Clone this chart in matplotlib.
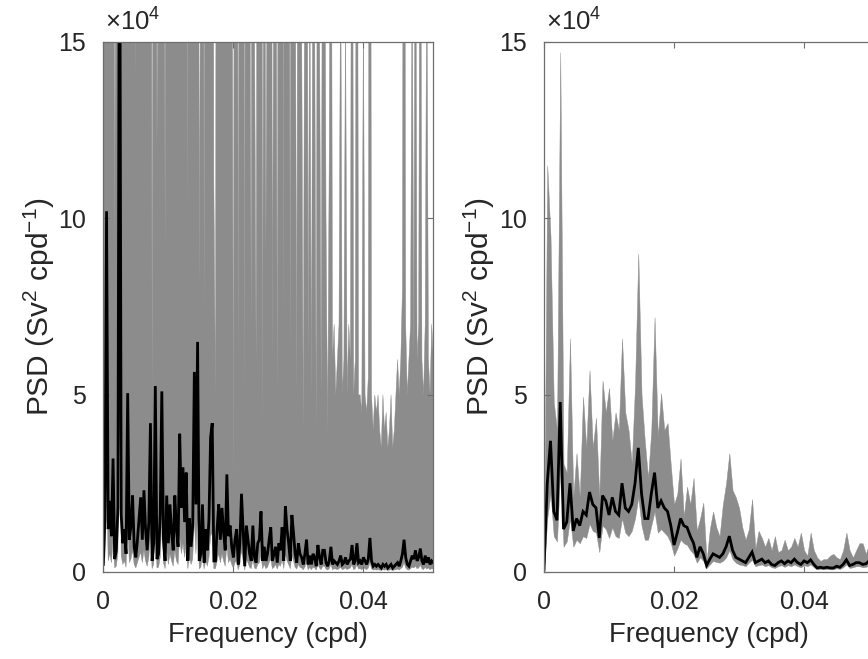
import numpy as np
import matplotlib
matplotlib.use("Agg")
import matplotlib.pyplot as plt

plt.rcParams['font.family'] = ['Liberation Sans', 'DejaVu Sans']
plt.rcParams['mathtext.fontset'] = 'custom'
plt.rcParams['mathtext.rm'] = 'Liberation Sans'
plt.rcParams['mathtext.it'] = 'Liberation Sans'

# ---------------- data (PSD in units of 1e4 Sv^2 cpd^-1) ----------------
df_left = 0.00025  # frequency spacing of the raw periodogram (cpd)
psd_left = [
    0.2, 1.5, 10.2, 1.2, 2.0, 1.0, 3.2, 0.35, 0.6, 1.8,
    22, 1.6, 0.8, 1.2, 0.5, 5.05, 0.9, 1.3, 2.15, 0.7,
    0.4, 0.9, 1.5, 2.1, 0.9, 2.3, 1.2, 0.6, 1.4, 4.2,
    0.3, 0.8, 5.25, 0.35, 0.5, 1.6, 5.1, 0.9, 0.3, 2.15,
    0.8, 1.9, 1.1, 0.6, 2.15, 1.2, 0.7, 3.9, 1.8, 2.95,
    1.4, 2.8, 0.3, 1.5, 0.7, 1.3, 5.65, 1.9, 6.5, 0.3,
    0.5, 1.9, 0.25, 1.2, 0.6, 1.5, 3.8, 4.2, 0.3, 0.3,
    1.2, 1.9, 0.9, 1.8, 1.1, 0.6, 2.75, 1.0, 1.3, 0.7,
    0.4, 0.9, 1.2, 0.2, 0.8, 2.2, 1.15, 0.15, 1.3, 0.9,
    0.5, 0.3, 1.3, 0.4, 0.25, 0.8, 0.9, 1.7, 0.3, 0.7,
    0.3, 0.5, 0.9, 1.25, 0.3, 0.5, 0.7, 0.25, 0.8, 0.6,
    1.25, 0.3, 1.85, 1.2, 0.8, 0.3, 1.6, 1.1, 0.5, 0.25,
    0.8, 0.5, 0.4, 0.2, 0.5, 0.9, 0.2, 0.45, 0.2, 0.5,
    0.4, 0.15, 0.75, 0.4, 0.2, 0.6, 0.6, 0.25, 0.15, 0.3,
    0.7, 0.2, 0.3, 0.25, 0.2, 0.3, 0.45, 0.2, 0.25, 0.4,
    0.2, 0.3, 0.35, 0.75, 0.2, 0.3, 0.8, 0.25, 0.3, 0.2,
    0.4, 0.3, 0.2, 0.35, 0.95, 0.3, 0.15, 0.2, 0.15, 0.2,
    0.15, 0.1, 0.2, 0.15, 0.2, 0.1, 0.15, 0.2, 0.1, 0.15,
    0.2, 0.25, 0.15, 0.3, 0.5, 0.9, 0.4, 0.2, 0.15, 0.3,
    0.45, 0.35, 0.6, 0.3, 0.4, 0.65, 0.3, 0.2, 0.45, 0.25,
    0.4, 0.2, 0.3, 0.25,
]
upper_left = [
    20, 50, 60, 45, 60, 40, 60, 9, 24, 60,
    90, 60, 32, 45, 20, 60, 36, 50, 60, 28,
    14, 36, 60, 60, 36, 60, 45, 24, 55, 60,
    5, 32, 60, 12, 20, 60, 60, 36, 9, 60,
    32, 60, 44, 24, 60, 45, 28, 60, 60, 60,
    55, 60, 10, 60, 28, 50, 60, 60, 60, 8,
    20, 60, 7.3, 45, 24, 60, 60, 60, 11, 5,
    45, 60, 36, 60, 44, 24, 60, 40, 50, 28,
    2.6, 36, 45, 6, 32, 60, 45, 5, 50, 36,
    20, 7, 50, 16, 6, 32, 36, 60, 4, 28,
    9, 20, 36, 50, 6, 20, 28, 5, 32, 24,
    50, 7, 60, 45, 32, 6, 60, 44, 20, 5,
    32, 20, 16, 4, 20, 36, 6, 18, 5, 20,
    16, 4, 30, 16, 5, 24, 24, 10, 4, 12,
    28, 6, 7, 5, 6, 7, 18, 5, 6, 16,
    5, 7, 6, 30, 5, 6, 32, 5, 5, 4.5,
    16, 5, 4.5, 5.5, 38, 5, 4, 5, 4.5, 5,
    4, 3.5, 5, 4, 4.5, 3.5, 4, 5, 3.5, 4,
    5, 6, 5, 6, 8, 36, 7, 5, 6, 7,
    18, 6, 24, 6, 7, 26, 6, 5, 7, 18,
    6, 5, 7, 6,
]
lower_left = [
    0.05, 0.4, 2.8, 0.3, 0.5, 0.25, 0.85, 0.1, 0.15, 0.5,
    6, 0.45, 0.2, 0.3, 0.12, 1.4, 0.25, 0.35, 0.6, 0.2,
    0.1, 0.25, 0.4, 0.55, 0.25, 0.6, 0.3, 0.15, 0.4, 1.1,
    0.08, 0.2, 1.4, 0.1, 0.12, 0.4, 1.4, 0.25, 0.08, 0.6,
    0.2, 0.5, 0.3, 0.15, 0.6, 0.3, 0.2, 1.05, 0.5, 0.8,
    0.4, 0.75, 0.08, 0.4, 0.2, 0.35, 1.5, 0.5, 1.75, 0.08,
    0.12, 0.5, 0.07, 0.3, 0.15, 0.4, 1.0, 1.1, 0.08, 0.08,
    0.3, 0.5, 0.25, 0.5, 0.3, 0.15, 0.75, 0.25, 0.35, 0.2,
    0.1, 0.25, 0.3, 0.05, 0.2, 0.6, 0.3, 0.04, 0.35, 0.25,
    0.12, 0.08, 0.35, 0.1, 0.07, 0.2, 0.25, 0.45, 0.08, 0.2,
    0.08, 0.12, 0.25, 0.35, 0.08, 0.12, 0.2, 0.07, 0.2, 0.15,
    0.35, 0.08, 0.5, 0.3, 0.2, 0.08, 0.45, 0.3, 0.12, 0.07,
    0.2, 0.12, 0.1, 0.05, 0.12, 0.25, 0.05, 0.12, 0.05, 0.12,
    0.1, 0.04, 0.2, 0.1, 0.05, 0.15, 0.15, 0.07, 0.04, 0.08,
    0.2, 0.05, 0.08, 0.07, 0.05, 0.08, 0.12, 0.05, 0.07, 0.1,
    0.05, 0.08, 0.1, 0.2, 0.05, 0.08, 0.2, 0.07, 0.08, 0.05,
    0.1, 0.08, 0.05, 0.1, 0.25, 0.08, 0.04, 0.05, 0.04, 0.05,
    0.04, 0.03, 0.05, 0.04, 0.05, 0.03, 0.04, 0.05, 0.03, 0.04,
    0.05, 0.07, 0.04, 0.08, 0.12, 0.25, 0.1, 0.05, 0.04, 0.08,
    0.12, 0.1, 0.15, 0.08, 0.1, 0.18, 0.08, 0.05, 0.12, 0.07,
    0.1, 0.05, 0.08, 0.07,
]

df_right = 0.0005  # frequency spacing of the averaged spectrum (cpd)
psd_right = [
    0.05, 2.5, 3.7, 1.7, 1.45, 4.8, 1.2, 1.4, 2.5, 1.15,
    1.5, 1.3, 1.7, 1.6, 2.25, 1.9, 1.8, 0.95, 2.15, 2.0,
    1.6, 2.1, 1.7, 1.6, 2.5, 1.8, 1.7, 1.9, 2.5, 3.5,
    2.2, 1.5, 1.5, 2.2, 2.8, 1.8, 2.0, 1.8, 1.7, 1.3,
    0.75, 1.1, 1.5, 1.3, 1.25, 1.0, 0.8, 0.4, 0.7, 0.5,
    0.17, 0.35, 0.5, 0.45, 0.4, 0.5, 0.7, 1.0, 0.6, 0.4,
    0.35, 0.3, 0.25, 0.4, 0.55, 0.25, 0.3, 0.35, 0.25, 0.3,
    0.2, 0.17, 0.25, 0.3, 0.22, 0.3, 0.25, 0.35, 0.25, 0.2,
    0.3, 0.25, 0.33, 0.2, 0.1, 0.12, 0.1, 0.12, 0.1, 0.1,
    0.15, 0.12, 0.2, 0.33, 0.17, 0.2, 0.25, 0.25, 0.2, 0.22,
    0.3,
]
upper_right = [
    0.2, 11.5, 9.5, 4.8, 4.0, 14.7, 3.05, 2.8, 6.6, 2.1,
    3.35, 2.1, 4.95, 3.5, 5.7, 3.5, 4.35, 2.1, 5.4, 4.5,
    5.2, 3.7, 4.5, 4.0, 6.6, 4.5, 4.0, 3.05, 5.3, 9.0,
    5.0, 3.7, 2.65, 4.0, 7.2, 3.8, 5.05, 4.0, 4.2, 3.0,
    1.9, 2.2, 3.2, 1.55, 2.4, 1.9, 2.65, 1.15, 1.5, 1.95,
    0.3, 1.2, 1.7, 1.25, 1.0, 1.9, 2.5, 3.35, 2.3, 2.1,
    1.8, 1.25, 0.9, 1.2, 2.05, 0.65, 1.15, 0.95, 0.7, 0.95,
    0.6, 1.0, 0.55, 0.6, 0.9, 0.6, 0.7, 0.95, 0.7, 1.1,
    0.6, 0.45, 1.1, 0.6, 0.4, 0.3, 0.35, 0.35, 0.45, 0.5,
    0.4, 0.35, 0.6, 1.1, 0.6, 0.4, 0.6, 0.8, 0.8, 0.5,
    0.8,
]
lower_right = [
    0.0, 1.5, 2.2, 1.0, 0.85, 2.9, 0.7, 0.85, 1.5, 0.7,
    0.9, 0.8, 1.0, 0.95, 1.35, 1.15, 1.1, 0.55, 1.3, 1.2,
    0.95, 1.25, 1.0, 0.95, 1.5, 1.1, 1.0, 1.15, 1.5, 2.1,
    1.3, 0.9, 0.9, 1.3, 1.7, 1.1, 1.2, 1.1, 1.0, 0.8,
    0.45, 0.65, 0.9, 0.8, 0.75, 0.6, 0.5, 0.25, 0.4, 0.3,
    0.1, 0.2, 0.3, 0.27, 0.25, 0.3, 0.4, 0.6, 0.35, 0.25,
    0.2, 0.18, 0.15, 0.25, 0.33, 0.15, 0.18, 0.2, 0.15, 0.18,
    0.12, 0.1, 0.15, 0.18, 0.13, 0.18, 0.15, 0.2, 0.15, 0.12,
    0.18, 0.15, 0.2, 0.12, 0.06, 0.07, 0.06, 0.07, 0.06, 0.06,
    0.09, 0.07, 0.12, 0.2, 0.1, 0.12, 0.15, 0.15, 0.12, 0.13,
    0.18,
]

xticks = [0, 0.02, 0.04]
xticklabels = ['0', '0.02', '0.04']
yticks = [0, 5, 10, 15]
yticklabels = ['0', '5', '10', '15']

# ---------------- figure ----------------
W, H = 868, 659
fig = plt.figure(figsize=(W / 100, H / 100), dpi=100)

ax_w = 329.7 / W
ax_b = (H - 571.5) / H
ax_h = (571.5 - 41.7) / H
ax1 = fig.add_axes([103.3 / W, ax_b, ax_w, ax_h])
ax2 = fig.add_axes([544.0 / W, ax_b, ax_w, ax_h])

gray = '#8c8c8c'
axcol = '#6e6e6e'
txtcol = '#262626'

panels = [
    (ax1, df_left, psd_left, lower_left, upper_left),
    (ax2, df_right, psd_right, lower_right, upper_right),
]
for ax, dfreq, psd, lo, up in panels:
    f = np.arange(len(psd)) * dfreq
    ax.fill_between(f, lo, up, color=gray, linewidth=0.3, edgecolor=gray)
    ax.plot(f, psd, color='black', linewidth=2.0, solid_joinstyle='miter')
    ax.set_xlim(0, 0.0507)
    ax.set_ylim(0, 15)
    ax.set_xticks(xticks)
    ax.set_xticklabels(xticklabels)
    ax.set_yticks(yticks)
    ax.set_yticklabels(yticklabels)
    ax.tick_params(direction='in', length=4, width=0.8, color=axcol,
                   labelsize=18, labelcolor=txtcol, top=True, right=True)
    ax.tick_params(axis='x', pad=13)
    ax.tick_params(axis='y', pad=12.5)
    for s in ax.spines.values():
        s.set_color(axcol)
        s.set_linewidth(0.9)
    ax.set_xlabel('Frequency (cpd)', fontsize=19.8, color=txtcol, labelpad=6)
    ax.set_ylabel(r'PSD (Sv$^{2}$ cpd$^{-1}$)', fontsize=21.5, color=txtcol,
                  labelpad=1)
    ax.text(0.005, 1.012, r'$\times10^{4}$', transform=ax.transAxes,
            fontsize=18.5, color=txtcol, ha='left', va='bottom')

fig.savefig('out.png', dpi=100)
